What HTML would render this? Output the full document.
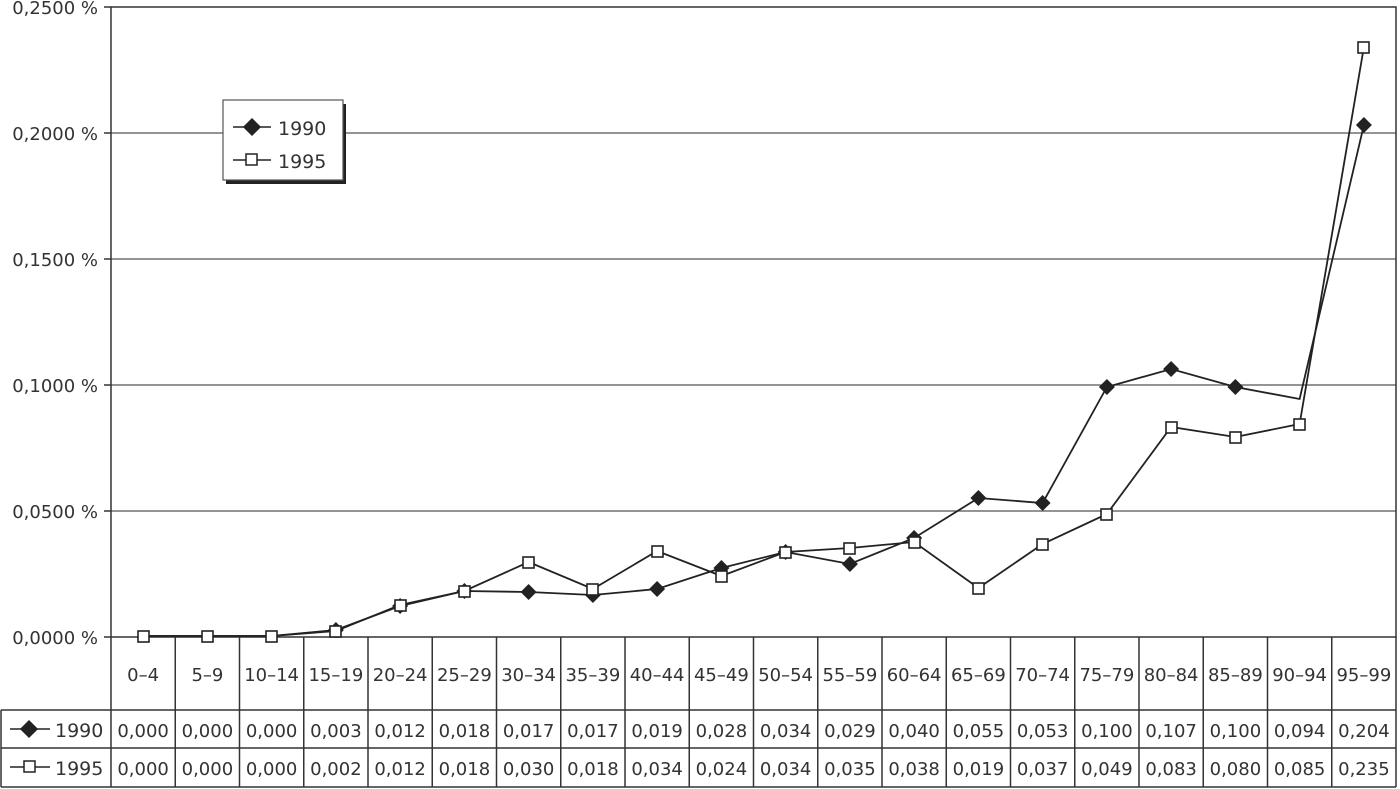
<!DOCTYPE html>
<html><head><meta charset="utf-8"><style>
body{margin:0;background:#fff}
svg{display:block;font-family:"DejaVu Sans","Liberation Sans",sans-serif;}
text{fill:#333;font-size:18px}
</style></head><body>
<svg width="1400" height="789" viewBox="0 0 1400 789" xmlns="http://www.w3.org/2000/svg">
<g stroke="#555" stroke-width="1.2">
<line x1="111" y1="133" x2="1396" y2="133"/>
<line x1="111" y1="259" x2="1396" y2="259"/>
<line x1="111" y1="385" x2="1396" y2="385"/>
<line x1="111" y1="511" x2="1396" y2="511"/>
</g>
<rect x="111" y="7" width="1285" height="630" fill="none" stroke="#333" stroke-width="1.5"/>
<g stroke="#333" stroke-width="1.5">
<line x1="104" y1="7" x2="111" y2="7"/><line x1="104" y1="133" x2="111" y2="133"/><line x1="104" y1="259" x2="111" y2="259"/><line x1="104" y1="385" x2="111" y2="385"/><line x1="104" y1="511" x2="111" y2="511"/><line x1="104" y1="637" x2="111" y2="637"/>
</g>
<g text-anchor="end">
<text x="98" y="14">0,2500 %</text>
<text x="98" y="140">0,2000 %</text>
<text x="98" y="266">0,1500 %</text>
<text x="98" y="392">0,1000 %</text>
<text x="98" y="518">0,0500 %</text>
<text x="98" y="644">0,0000 %</text>
</g>
<g stroke="#333" stroke-width="1.5" fill="none">
<line x1="1" y1="710" x2="1396" y2="710"/>
<line x1="1" y1="748" x2="1396" y2="748"/>
<line x1="1" y1="787" x2="1396" y2="787"/>
<line x1="1" y1="710" x2="1" y2="787"/>
<line x1="1396" y1="637" x2="1396" y2="787"/>
<line x1="111" y1="637" x2="111" y2="787"/>
<line x1="175.25" y1="637" x2="175.25" y2="787"/><line x1="239.5" y1="637" x2="239.5" y2="787"/><line x1="303.75" y1="637" x2="303.75" y2="787"/><line x1="368" y1="637" x2="368" y2="787"/><line x1="432.25" y1="637" x2="432.25" y2="787"/><line x1="496.5" y1="637" x2="496.5" y2="787"/><line x1="560.75" y1="637" x2="560.75" y2="787"/><line x1="625" y1="637" x2="625" y2="787"/><line x1="689.25" y1="637" x2="689.25" y2="787"/><line x1="753.5" y1="637" x2="753.5" y2="787"/><line x1="817.75" y1="637" x2="817.75" y2="787"/><line x1="882" y1="637" x2="882" y2="787"/><line x1="946.25" y1="637" x2="946.25" y2="787"/><line x1="1010.5" y1="637" x2="1010.5" y2="787"/><line x1="1074.75" y1="637" x2="1074.75" y2="787"/><line x1="1139" y1="637" x2="1139" y2="787"/><line x1="1203.25" y1="637" x2="1203.25" y2="787"/><line x1="1267.5" y1="637" x2="1267.5" y2="787"/><line x1="1331.75" y1="637" x2="1331.75" y2="787"/>
</g>
<g text-anchor="middle">
<text x="143.1" y="681">0–4</text><text x="207.4" y="681">5–9</text><text x="271.6" y="681">10–14</text><text x="335.9" y="681">15–19</text><text x="400.1" y="681">20–24</text><text x="464.4" y="681">25–29</text><text x="528.6" y="681">30–34</text><text x="592.9" y="681">35–39</text><text x="657.1" y="681">40–44</text><text x="721.4" y="681">45–49</text><text x="785.6" y="681">50–54</text><text x="849.9" y="681">55–59</text><text x="914.1" y="681">60–64</text><text x="978.4" y="681">65–69</text><text x="1042.6" y="681">70–74</text><text x="1106.9" y="681">75–79</text><text x="1171.1" y="681">80–84</text><text x="1235.4" y="681">85–89</text><text x="1299.6" y="681">90–94</text><text x="1363.9" y="681">95–99</text>
</g>
<g text-anchor="middle">
<text x="143.1" y="737">0,000</text><text x="207.4" y="737">0,000</text><text x="271.6" y="737">0,000</text><text x="335.9" y="737">0,003</text><text x="400.1" y="737">0,012</text><text x="464.4" y="737">0,018</text><text x="528.6" y="737">0,017</text><text x="592.9" y="737">0,017</text><text x="657.1" y="737">0,019</text><text x="721.4" y="737">0,028</text><text x="785.6" y="737">0,034</text><text x="849.9" y="737">0,029</text><text x="914.1" y="737">0,040</text><text x="978.4" y="737">0,055</text><text x="1042.6" y="737">0,053</text><text x="1106.9" y="737">0,100</text><text x="1171.1" y="737">0,107</text><text x="1235.4" y="737">0,100</text><text x="1299.6" y="737">0,094</text><text x="1363.9" y="737">0,204</text>
<text x="143.1" y="775">0,000</text><text x="207.4" y="775">0,000</text><text x="271.6" y="775">0,000</text><text x="335.9" y="775">0,002</text><text x="400.1" y="775">0,012</text><text x="464.4" y="775">0,018</text><text x="528.6" y="775">0,030</text><text x="592.9" y="775">0,018</text><text x="657.1" y="775">0,034</text><text x="721.4" y="775">0,024</text><text x="785.6" y="775">0,034</text><text x="849.9" y="775">0,035</text><text x="914.1" y="775">0,038</text><text x="978.4" y="775">0,019</text><text x="1042.6" y="775">0,037</text><text x="1106.9" y="775">0,049</text><text x="1171.1" y="775">0,083</text><text x="1235.4" y="775">0,080</text><text x="1299.6" y="775">0,085</text><text x="1363.9" y="775">0,235</text>
</g>
<g stroke="#222" stroke-width="1.5">
<line x1="10" y1="729" x2="50" y2="729"/>
<path d="M29 721 L37 729 L29 737 L21 729 Z" fill="#222"/>
<line x1="10" y1="767" x2="50" y2="767"/>
<rect x="24" y="761" width="11" height="11" fill="#fff"/>
</g>
<text x="55" y="737" style="font-size:19px">1990</text>
<text x="55" y="775" style="font-size:19px">1995</text>
<polyline fill="none" stroke="#222" stroke-width="1.8" points="143.1,636 207.4,636 271.6,636 335.9,630 400.1,606 464.4,591 528.6,592 592.9,595 657.1,589 721.4,568 785.6,552 849.9,564 914.1,538 978.4,498 1042.6,503 1106.9,387 1171.1,369 1235.4,387 1299.6,399 1363.9,125"/>
<polyline fill="none" stroke="#222" stroke-width="1.8" points="143.1,636 207.4,636 271.6,636 335.9,631 400.1,605 464.4,591 528.6,562 592.9,589 657.1,551 721.4,576 785.6,552 849.9,548 914.1,542 978.4,588 1042.6,544 1106.9,514 1171.1,427 1235.4,437 1299.6,424 1363.9,47"/>
<g fill="#222">
<path d="M335.9 622 l8 8 l-8 8 l-8 -8 Z"/><path d="M400.1 598 l8 8 l-8 8 l-8 -8 Z"/><path d="M464.4 583 l8 8 l-8 8 l-8 -8 Z"/><path d="M528.6 584 l8 8 l-8 8 l-8 -8 Z"/><path d="M592.9 587 l8 8 l-8 8 l-8 -8 Z"/><path d="M657.1 581 l8 8 l-8 8 l-8 -8 Z"/><path d="M721.4 560 l8 8 l-8 8 l-8 -8 Z"/><path d="M785.6 544 l8 8 l-8 8 l-8 -8 Z"/><path d="M849.9 556 l8 8 l-8 8 l-8 -8 Z"/><path d="M914.1 530 l8 8 l-8 8 l-8 -8 Z"/><path d="M978.4 490 l8 8 l-8 8 l-8 -8 Z"/><path d="M1042.6 495 l8 8 l-8 8 l-8 -8 Z"/><path d="M1106.9 379 l8 8 l-8 8 l-8 -8 Z"/><path d="M1171.1 361 l8 8 l-8 8 l-8 -8 Z"/><path d="M1235.4 379 l8 8 l-8 8 l-8 -8 Z"/><path d="M1363.9 117 l8 8 l-8 8 l-8 -8 Z"/>
</g>
<g fill="#fff" stroke="#222" stroke-width="1.6">
<rect x="138" y="631" width="11" height="11"/><rect x="202" y="631" width="11" height="11"/><rect x="266" y="631" width="11" height="11"/><rect x="330" y="626" width="11" height="11"/><rect x="395" y="600" width="11" height="11"/><rect x="459" y="586" width="11" height="11"/><rect x="523" y="557" width="11" height="11"/><rect x="587" y="584" width="11" height="11"/><rect x="652" y="546" width="11" height="11"/><rect x="716" y="571" width="11" height="11"/><rect x="780" y="547" width="11" height="11"/><rect x="844" y="543" width="11" height="11"/><rect x="909" y="537" width="11" height="11"/><rect x="973" y="583" width="11" height="11"/><rect x="1037" y="539" width="11" height="11"/><rect x="1101" y="509" width="11" height="11"/><rect x="1166" y="422" width="11" height="11"/><rect x="1230" y="432" width="11" height="11"/><rect x="1294" y="419" width="11" height="11"/><rect x="1358" y="42" width="11" height="11"/>
</g>
<rect x="226" y="104" width="120" height="80" fill="#222"/>
<rect x="223" y="100" width="120" height="80" fill="#fff" stroke="#555" stroke-width="1.2"/>
<g stroke="#222" stroke-width="1.5">
<line x1="233" y1="127" x2="271" y2="127"/>
<path d="M252 119 l8 8 l-8 8 l-8 -8 Z" fill="#222"/>
<line x1="233" y1="160" x2="271" y2="160"/>
<rect x="246" y="154" width="11" height="11" fill="#fff"/>
</g>
<text x="278" y="135" style="font-size:19px">1990</text>
<text x="278" y="168" style="font-size:19px">1995</text>
</svg>
</body></html>
